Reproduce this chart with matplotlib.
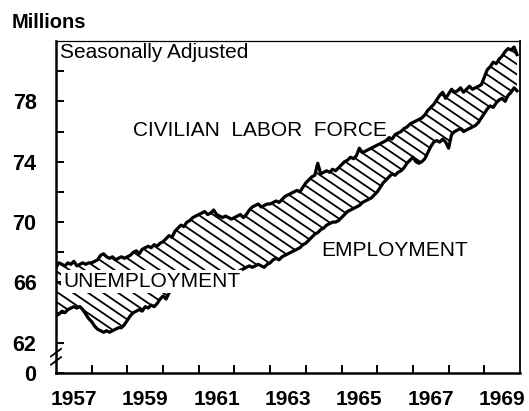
import numpy as np
import matplotlib
matplotlib.use("Agg")
import matplotlib.pyplot as plt
from matplotlib.collections import LineCollection

plt.rcParams['font.family'] = ['Liberation Sans', 'DejaVu Sans']

# monthly, seasonally adjusted, millions; Jan 1957 .. Dec 1969
start_year = 1957
labor_force = [
    67.0, 67.3, 67.2, 67.1, 67.3, 67.2, 67.4, 67.1, 67.2, 67.3, 67.2, 67.3,   # 1957
    67.3, 67.4, 67.5, 67.8, 67.9, 67.7, 67.6, 67.7, 67.5, 67.6, 67.7, 67.6,   # 1958
    67.7, 67.8, 68.0, 68.1, 67.9, 68.2, 68.3, 68.4, 68.3, 68.5, 68.4, 68.6,   # 1959
    68.7, 68.9, 69.1, 69.0, 69.4, 69.6, 69.8, 69.7, 70.0, 70.1, 70.3, 70.4,   # 1960
    70.5, 70.6, 70.7, 70.5, 70.6, 70.8, 70.5, 70.4, 70.3, 70.4, 70.3, 70.2,   # 1961
    70.3, 70.4, 70.5, 70.3, 70.5, 70.8, 71.0, 71.1, 71.2, 71.0, 71.1, 71.2,   # 1962
    71.2, 71.3, 71.4, 71.3, 71.5, 71.7, 71.8, 71.9, 72.0, 72.1, 72.0, 72.3,   # 1963
    72.6, 72.8, 73.0, 73.1, 73.9, 73.2, 73.3, 73.4, 73.3, 73.5, 73.4, 73.6,   # 1964
    73.8, 74.0, 74.1, 74.3, 74.2, 74.4, 74.9, 74.6, 74.7, 74.8, 74.9, 75.0,   # 1965
    75.1, 75.2, 75.3, 75.4, 75.6, 75.5, 75.8, 75.9, 76.0, 76.2, 76.3, 76.5,   # 1966
    76.6, 76.7, 76.8, 76.9, 77.1, 77.4, 77.6, 77.8, 78.1, 78.4, 78.6, 78.2,   # 1967
    78.5, 78.8, 78.6, 78.7, 78.9, 78.6, 78.8, 79.0, 78.8, 78.9, 79.0, 79.1,   # 1968
    79.6, 80.1, 80.3, 80.6, 80.5, 80.8, 81.0, 81.3, 81.5, 81.4, 81.6, 81.1,   # 1969
]
employment = [
    63.8, 63.9, 64.1, 64.0, 64.2, 64.3, 64.4, 64.3, 64.4, 64.2, 63.9, 63.6,   # 1957
    63.4, 63.1, 62.9, 62.8, 62.7, 62.8, 62.7, 62.8, 62.9, 63.0, 63.0, 63.2,   # 1958
    63.5, 63.8, 64.0, 64.1, 64.2, 64.1, 64.4, 64.3, 64.5, 64.4, 64.6, 64.9,   # 1959
    65.1, 64.9, 65.3, 65.8, 65.9, 66.0, 65.9, 66.1, 66.0, 65.9, 66.0, 65.9,   # 1960
    65.8, 65.7, 65.8, 65.9, 66.0, 66.1, 66.0, 66.2, 66.1, 66.3, 66.4, 66.5,   # 1961
    66.6, 66.7, 66.8, 66.9, 67.0, 67.1, 67.0, 67.1, 67.2, 67.1, 67.0, 67.2,   # 1962
    67.3, 67.5, 67.6, 67.5, 67.7, 67.8, 67.9, 68.0, 68.1, 68.2, 68.3, 68.5,   # 1963
    68.6, 68.8, 69.0, 69.2, 69.3, 69.5, 69.6, 69.8, 69.9, 70.0, 70.0, 70.1,   # 1964
    70.3, 70.5, 70.7, 70.8, 70.9, 71.0, 71.1, 71.3, 71.4, 71.5, 71.6, 71.8,   # 1965
    72.0, 72.3, 72.6, 72.8, 73.0, 73.2, 73.1, 73.3, 73.4, 73.6, 73.9, 74.1,   # 1966
    74.3, 74.0, 73.9, 74.0, 74.2, 74.6, 75.0, 75.3, 75.4, 75.3, 75.5, 75.3,   # 1967
    74.9, 75.8, 76.0, 76.1, 76.2, 76.0, 76.1, 76.2, 76.3, 76.4, 76.6, 76.9,   # 1968
    77.2, 77.5, 77.7, 77.6, 77.9, 78.1, 78.2, 78.0, 78.4, 78.6, 78.9, 78.7,   # 1969
]
year_labels = [1957, 1959, 1961, 1963, 1965, 1967, 1969]
y_labels = [62, 66, 70, 74, 78]

months = start_year + np.arange(len(labor_force)) / 12.0

fig = plt.figure(figsize=(5.29, 4.11), dpi=100)
ax = fig.add_axes([56 / 529, 1 - 373 / 411, 464 / 529, 332 / 411])

# white band, then slanted hatching clipped to it
band = ax.fill_between(months, employment, labor_force, facecolor='white',
                       edgecolor='none', zorder=1)
W, H = 464.0, 332.0
slope, step = 0.68, 15.0
segs = []
for c in np.arange(0, H + slope * W + step * slope, step * slope):
    segs.append([(0, c / H), (1, (c - slope * W) / H)])
hatch = LineCollection(segs, colors='black', linewidths=1.3,
                       transform=ax.transAxes, zorder=2)
hatch.set_clip_path(band.get_paths()[0], ax.transData)
ax.add_collection(hatch)

ax.plot(months, labor_force, color='black', lw=2.3, zorder=3)
ax.plot(months, employment, color='black', lw=2.3, zorder=3)

ax.set_xlim(1957, 1970)
ax.set_ylim(60, 82)

# axes frame
for side in ['left', 'bottom']:
    ax.spines[side].set_linewidth(1.8)
ax.spines['top'].set_linewidth(0.9)
ax.spines['right'].set_linewidth(1.3)

ax.set_xticks(np.arange(1958, 1970))
ax.set_xticks(np.array(year_labels) + 0.5, minor=True)
ax.set_xticklabels([])
ax.set_xticklabels([str(y) for y in year_labels], minor=True)
ax.tick_params(axis='x', which='major', direction='in', length=6, width=1.4)
ax.tick_params(axis='x', which='minor', length=0, pad=12, labelsize=15)

ax.set_yticks([60] + y_labels)
ax.set_yticklabels(['0'] + [str(v) for v in y_labels])
ax.set_yticks([64, 68, 72, 76, 80], minor=True)
ax.tick_params(axis='y', which='both', direction='in', length=6, width=1.4,
               pad=14, labelsize=15.5)
for lab in ax.get_xticklabels(minor=True) + ax.get_yticklabels():
    lab.set_fontweight('bold')

# axis break on the left spine
for dy in (0.0, 0.55):
    ax.plot([1956.86, 1957.14], [60.55 + dy, 61.05 + dy], color='black',
            lw=1.3, clip_on=False, zorder=5)

# texts
fig.text(12 / 529, 1 - 28 / 411, 'Millions', fontsize=14.5, fontweight='bold',
         va='baseline', ha='left')
ax.text(0.009, 0.949, 'Seasonally Adjusted', transform=ax.transAxes,
        fontsize=15, va='baseline', ha='left')
ax.text(1959.15, 75.7, 'CIVILIAN  LABOR  FORCE', fontsize=15,
        va='baseline', ha='left')
ax.text(1964.43, 67.76, 'EMPLOYMENT', fontsize=15, va='baseline', ha='left')
ax.text(1957.2, 65.7, 'UNEMPLOYMENT', fontsize=15, va='baseline', ha='left',
        zorder=6, bbox=dict(facecolor='white', edgecolor='none', pad=1.5))

fig.savefig('out.png', dpi=100)
